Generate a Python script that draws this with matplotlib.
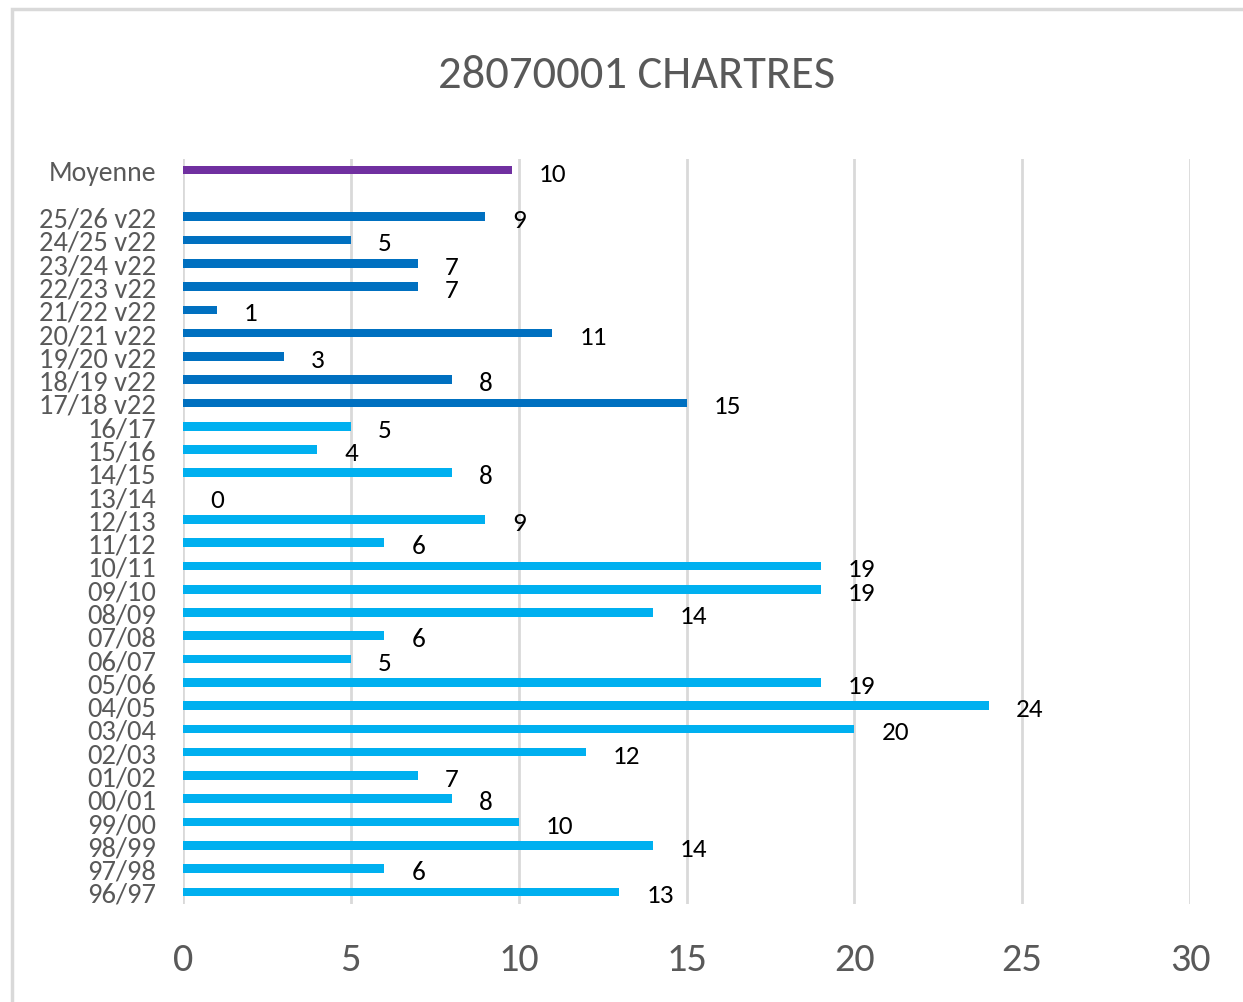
import matplotlib
matplotlib.use("Agg")
import matplotlib.pyplot as plt
from matplotlib.patches import Rectangle

# data, top to bottom
seasons_v22 = ["25/26 v22", "24/25 v22", "23/24 v22", "22/23 v22", "21/22 v22",
               "20/21 v22", "19/20 v22", "18/19 v22", "17/18 v22"]
values_v22 = [9, 5, 7, 7, 1, 11, 3, 8, 15]
seasons_old = ["16/17", "15/16", "14/15", "13/14", "12/13", "11/12", "10/11", "09/10",
               "08/09", "07/08", "06/07", "05/06", "04/05", "03/04", "02/03", "01/02",
               "00/01", "99/00", "98/99", "97/98", "96/97"]
values_old = [5, 4, 8, 0, 9, 6, 19, 19, 14, 6, 5, 19, 24, 20, 12, 7, 8, 10, 14, 6, 13]
mean_label = "Moyenne"
mean_value = 9.8
title = "28070001 CHARTRES"

c_mean = "#7030A0"
c_v22 = "#0070C0"
c_old = "#00B0F0"
grey = "#595959"
fam = ["Carlito", "DejaVu Sans"]

W, H = 1243, 1003
dpi = 100
px = 72 / dpi  # pixels -> points
fig = plt.figure(figsize=(W / dpi, H / dpi), dpi=dpi)

# chart frame (cut by the image edges on right and bottom)
fig.patches.append(Rectangle((12 / W, -0.05), 1.2, 1 - 10 / H + 0.05, transform=fig.transFigure,
                             fill=False, edgecolor="#D9D9D9", linewidth=2.5))

left, right, top, bottom = 183, 1190, 159.5, 904.5
ax = fig.add_axes([left / W, 1 - bottom / H, (right - left) / W, (bottom - top) / H])

labels = [mean_label, ""] + seasons_v22 + seasons_old
values = [mean_value, None] + values_v22 + values_old
colors = [c_mean, None] + [c_v22] * len(values_v22) + [c_old] * len(values_old)

for i, (v, c) in enumerate(zip(values, colors)):
    if v is None:
        continue
    ax.barh(i, v, height=0.37, color=c, zorder=3)
    ax.annotate(f"{v:.0f}", (v, i), xytext=(27 * px, -3 * px),
                textcoords="offset points", ha="left", va="center",
                fontsize=19.5, family=fam, color="black")

ax.set_xlim(0, 30)
ax.set_ylim(len(labels) - 0.5, -0.5)
ax.set_xticks(range(0, 31, 5))
ax.grid(axis="x", color="#D9D9D9", linewidth=2, zorder=0)
for s in ax.spines.values():
    s.set_visible(False)

ticks = [i for i, l in enumerate(labels) if l]
ax.set_yticks(ticks)
ax.set_yticklabels([labels[i] for i in ticks])
for t in ax.get_yticklabels():
    t.set_color(grey)
    t.set_fontfamily(fam)
    t.set_fontsize(20 if t.get_text() == mean_label else 20.5)
ax.tick_params(axis="y", length=0, pad=27 * px)
ax.tick_params(axis="x", length=0, pad=27, labelsize=29, labelcolor=grey)
for t in ax.get_xticklabels():
    t.set_fontfamily(fam)

fig.text(637 / W, 1 - 76 / H, title, ha="center", va="center", fontsize=33.5,
         color=grey, family=fam)

fig.savefig("out.png", dpi=dpi)
